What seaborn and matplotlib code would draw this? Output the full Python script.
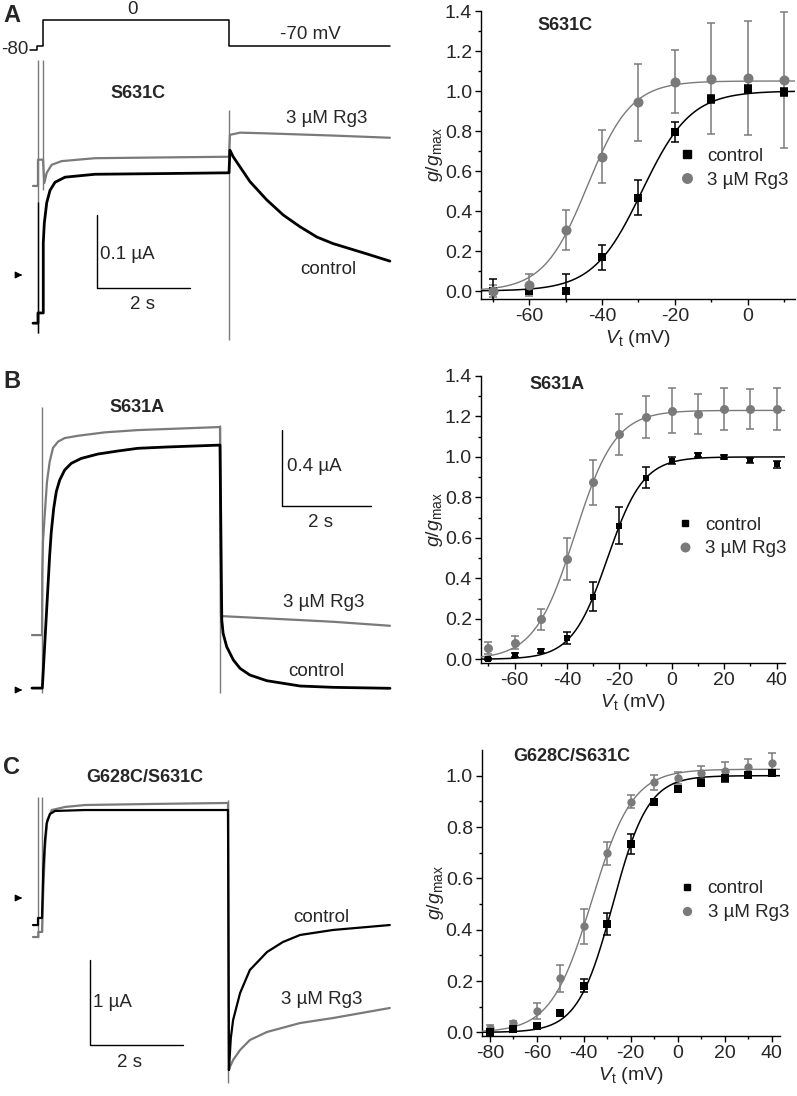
import numpy as np
import seaborn as sns
import matplotlib.pyplot as plt
from matplotlib.lines import Line2D

sns.set_theme(style='ticks')
plt.rcParams['font.family'] = ['Liberation Sans', 'DejaVu Sans']
plt.rcParams['axes.unicode_minus'] = False
plt.rcParams['mathtext.fontset'] = 'custom'
plt.rcParams['mathtext.rm'] = 'Liberation Sans'
plt.rcParams['mathtext.it'] = 'Liberation Sans:italic'

GREY = '#7a7a7a'
RG3 = '3 µM Rg3'

# ---------------- G-V data (right column) ----------------
#A  S631C
vt_a = [-70, -60, -50, -40, -30, -20, -10, 0, 10]
g_ctl_a = [0.00, 0.00, 0.00, 0.168, 0.467, 0.797, 0.958, 1.008, 0.997]
sem_ctl_a = [0.058, 0.01, 0.085, 0.062, 0.088, 0.05, 0.02, 0.02, 0.02]
g_rg3_a = [0.00, 0.03, 0.305, 0.672, 0.943, 1.047, 1.062, 1.065, 1.053]
sem_rg3_a = [0.03, 0.053, 0.10, 0.134, 0.194, 0.158, 0.277, 0.287, 0.34]
fit_ctl_a = (1.0, -29.0, 6.7)     # gmax, V1/2, k
fit_rg3_a = (1.05, -44.0, 6.0)

#B  S631A
vt_b = [-70, -60, -50, -40, -30, -20, -10, 0, 10, 20, 30, 40]
g_ctl_b = [0.0, 0.02, 0.043, 0.107, 0.31, 0.66, 0.898, 0.982, 1.01, 0.998, 0.984, 0.964]
sem_ctl_b = [0.005, 0.01, 0.01, 0.03, 0.073, 0.091, 0.053, 0.017, 0.01, 0.01, 0.012, 0.017]
g_rg3_b = [0.054, 0.082, 0.198, 0.496, 0.875, 1.112, 1.196, 1.229, 1.213, 1.237, 1.236, 1.236]
sem_rg3_b = [0.03, 0.033, 0.052, 0.104, 0.111, 0.10, 0.103, 0.11, 0.10, 0.105, 0.10, 0.105]
fit_ctl_b = (1.0, -24.5, 6.8)
fit_rg3_b = (1.23, -37.0, 7.7)

#C  G628C/S631C
vt_c = [-80, -70, -60, -50, -40, -30, -20, -10, 0, 10, 20, 30, 40]
g_ctl_c = [0.0, 0.012, 0.026, 0.074, 0.182, 0.422, 0.734, 0.899, 0.948, 0.973, 0.99, 1.003, 1.012]
sem_ctl_c = [0.005, 0.005, 0.008, 0.01, 0.025, 0.044, 0.039, 0.012, 0.01, 0.013, 0.013, 0.01, 0.01]
g_rg3_c = [0.018, 0.035, 0.084, 0.21, 0.414, 0.697, 0.899, 0.974, 0.992, 1.009, 1.019, 1.035, 1.048]
sem_rg3_c = [0.01, 0.01, 0.03, 0.052, 0.068, 0.043, 0.025, 0.028, 0.023, 0.03, 0.033, 0.028, 0.04]
fit_ctl_c = (1.0, -27.6, 7.5)
fit_rg3_c = (1.025, -36.6, 8.7)

# ---------------- current traces (left column), time in s, current in uA ----------------
#A
t_ctl_a = [-0.215, -0.108, -0.108, 0.006, 0.006, 0.028, 0.08, 0.151, 0.258, 0.473, 1.118, 2.667, 4.0,
           4.02, 4.09, 4.45, 4.81, 5.17, 5.53, 5.89, 6.24, 6.96, 7.46]
i_ctl_a = [-0.066, -0.066, -0.052, -0.052, 0.044, 0.071, 0.099, 0.116, 0.127, 0.134, 0.138, 0.139, 0.140,
           0.171, 0.162, 0.128, 0.103, 0.082, 0.066, 0.052, 0.043, 0.029, 0.019]
t_rg3_a = [-0.215, -0.108, -0.108, 0.0, 0.028, 0.08, 0.187, 0.402, 1.118, 2.5, 4.0,
           4.02, 4.24, 4.82, 6.24, 7.46]
i_rg3_a = [0.122, 0.122, 0.158, 0.158, 0.126, 0.140, 0.151, 0.156, 0.160, 0.161, 0.162,
           0.192, 0.195, 0.194, 0.191, 0.188]
prot_t = [-0.28, -0.13, -0.13, 0.0, 0.0, 4.0, 4.0, 7.46]
prot_v = [-80, -80, -70, -70, 0, 0, -70, -70]

#B
t_ctl_b = [-0.225, 0.007, 0.09, 0.173, 0.209, 0.263, 0.321, 0.398, 0.51, 0.658, 0.883, 1.258, 1.708,
           2.151, 2.81, 4.0,
           4.04, 4.07, 4.15, 4.30, 4.45, 4.67, 5.05, 5.80, 6.54, 7.82]
i_ctl_b = [0.01, 0.01, 0.36, 0.711, 0.833, 0.956, 1.044, 1.105, 1.158, 1.193, 1.219, 1.242, 1.258,
           1.272, 1.279, 1.289,
           0.368, 0.298, 0.228, 0.158, 0.114, 0.079, 0.049, 0.021, 0.014, 0.009]
t_rg3_b = [-0.225, 0.0, 0.007, 0.022, 0.061, 0.112, 0.173, 0.247, 0.36, 0.51, 0.809, 1.409, 2.157, 4.0,
           4.02, 5.05, 6.55, 7.82]
i_rg3_b = [0.289, 0.289, 0.62, 0.781, 0.921, 1.096, 1.202, 1.274, 1.307, 1.326, 1.338, 1.356, 1.368, 1.384,
           0.389, 0.377, 0.359, 0.338]

#C
t_ctl_c = [-0.194, -0.086, -0.086, 0.0, 0.028, 0.065, 0.101, 0.172, 0.28, 0.925, 4.0,
           4.02, 4.06, 4.11, 4.26, 4.47, 4.84, 5.18, 5.55, 6.26, 7.48]
i_ctl_c = [-0.318, -0.318, -0.235, -0.235, 0.329, 0.682, 0.882, 0.988, 1.024, 1.035, 1.035,
           -2.024, -1.65, -1.435, -1.118, -0.847, -0.635, -0.518, -0.435, -0.376, -0.318]
t_rg3_c = [-0.194, -0.08, -0.08, 0.0, 0.028, 0.065, 0.114, 0.209, 0.495, 0.925, 2.32, 4.0,
           4.02, 4.04, 4.11, 4.26, 4.47, 4.84, 5.55, 6.26, 7.48]
i_rg3_c = [-0.459, -0.459, -0.4, -0.4, 0.094, 0.60, 0.918, 1.035, 1.071, 1.094, 1.106, 1.118,
           -2.024, -1.988, -1.906, -1.788, -1.671, -1.576, -1.471, -1.412, -1.294]

# ---------------- layout (pixels) ----------------
W, H = 797, 1096
fig = plt.figure(figsize=(W / 100, H / 100), dpi=100)


def px_axes(x0, y0, x1, y1):
    return fig.add_axes([x0 / W, 1 - y1 / H, (x1 - x0) / W, (y1 - y0) / H])


def trace_axes(box, x_on, pps, y_zero, ppa):
    ax = px_axes(*box)
    ax.set_xlim((box[0] - x_on) / pps, (box[2] - x_on) / pps)
    ax.set_ylim((y_zero - box[3]) / ppa, (y_zero - box[1]) / ppa)
    ax.axis('off')
    return ax


def draw_traces(ax, t1, i1, t2, i2, lw1=2.0, lw2=1.6):
    sns.lineplot(x=t2, y=i2, ax=ax, color=GREY, lw=lw2, estimator=None, sort=False, zorder=3)
    sns.lineplot(x=t1, y=i1, ax=ax, color='black', lw=lw1, estimator=None, sort=False, zorder=4)


def scale_bar(ax, t0, i0, dt, di, lab_i, lab_i_xy, lab_t_xy):
    ax.plot([t0, t0, t0 + dt], [i0 + di, i0, i0], color='black', lw=1.0)
    ax.text(*lab_i_xy, lab_i, ha='left', va='center', fontsize=13.5)
    ax.text(*lab_t_xy, '%g s' % dt, ha='center', va='center', fontsize=13.5)


def zero_arrow(ax, tail, tip):
    ax.annotate('', xy=(tip, 0), xytext=(tail, 0),
                arrowprops=dict(arrowstyle='-|>', color='black', lw=0.9, mutation_scale=10))


#---- A traces
axp = trace_axes((0, 0, 395, 56), 43, 46.5, 20, 0.3714)
sns.lineplot(x=prot_t, y=prot_v, ax=axp, color='black', lw=1.1, estimator=None, sort=False)
axp.text(-0.32, -80, '-80', ha='right', va='center', fontsize=13.5)
axp.text(1.92, 27, '0', ha='center', va='center', fontsize=13.5)
axp.text(5.74, -40, '-70 mV', ha='center', va='center', fontsize=13.5)

ax = trace_axes((0, 56, 395, 345), 43, 46.5, 275, 730)
ax.vlines([-0.101, 0.006, 4.0], [-0.0795, 0.116, -0.089], [0.2945, 0.2945, 0.226], color=GREY, lw=1.0)
ax.vlines([-0.101], [-0.0795], [0.10], color='black', lw=1.0)
draw_traces(ax, t_ctl_a, i_ctl_a, t_rg3_a, i_rg3_a)
scale_bar(ax, 1.161, -0.0178, 2, 0.1, '0.1 µA', (1.226, 0.0274), (2.15, -0.040))
zero_arrow(ax, -0.56, -0.387)
ax.text(2.04, 0.249, 'S631C', ha='center', va='center', fontsize=13, fontweight='bold')
ax.text(6.1, 0.215, RG3, ha='center', va='center', fontsize=13.5)
ax.text(6.14, 0.007, 'control', ha='center', va='center', fontsize=13.5)

#---- B traces
ax = trace_axes((0, 395, 395, 700), 42, 44.5, 690, 190)
ax.vlines([-0.007, 4.0], [-0.016, -0.016], [1.489, 1.395], color=GREY, lw=1.0)
draw_traces(ax, t_ctl_b, i_ctl_b, t_rg3_b, i_rg3_b)
scale_bar(ax, 5.39, 0.968, 2, 0.4, '0.4 µA', (5.50, 1.174), (6.25, 0.879))
zero_arrow(ax, -0.562, -0.382)
ax.text(2.13, 1.489, 'S631A', ha='center', va='center', fontsize=13, fontweight='bold')
ax.text(6.33, 0.458, RG3, ha='center', va='center', fontsize=13.5)
ax.text(6.17, 0.095, 'control', ha='center', va='center', fontsize=13.5)

#---- C traces
ax = trace_axes((0, 780, 395, 1092), 42, 46.5, 898, 85)
ax.vlines([-0.08, -0.006, 4.0], [-0.459, -0.4, -2.176], [1.188, 1.188, 1.153], color=GREY, lw=1.0)
draw_traces(ax, t_ctl_c, i_ctl_c, t_rg3_c, i_rg3_c, lw1=1.6, lw2=1.6)
scale_bar(ax, 1.032, -1.729, 2, 1.0, '1 µA', (1.10, -1.235), (1.89, -1.94))
zero_arrow(ax, -0.538, -0.366)
ax.text(2.215, 1.42, 'G628C/S631C', ha='center', va='center', fontsize=13, fontweight='bold')
ax.text(6.0, -0.224, 'control', ha='center', va='center', fontsize=13.5)
ax.text(6.01, -1.20, RG3, ha='center', va='center', fontsize=13.5)

# panel letters
for lab, yy in [('A', 15), ('B', 382), ('C', 767)]:
    fig.text(3 / W, 1 - yy / H, lab, ha='left', va='center', fontsize=17, fontweight='bold')


# ---------------- G-V panels ----------------
def gv_panel(box, xlim, ylim, vt, g1, e1, g2, e2, f1, f2, title, title_xy, leg_xy,
             xmaj, ymaj, s_sq, s_ci, rg3_on_top):
    ax = px_axes(*box)
    ax.errorbar(vt, g2, yerr=e2, fmt='none', ecolor=GREY, elinewidth=1.1, capsize=3, capthick=1.1, zorder=2)
    ax.errorbar(vt, g1, yerr=e1, fmt='none', ecolor='black', elinewidth=1.1, capsize=3, capthick=1.1, zorder=2)
    v = np.linspace(xlim[0], xlim[1], 300)
    for (gm, vh, k), col, lw in [(f1, 'black', 1.1), (f2, GREY, 1.0)]:
        sns.lineplot(x=v, y=gm / (1 + np.exp((vh - v) / k)), ax=ax, color=col, lw=lw,
                     estimator=None, sort=False, zorder=3)
    z1, z2 = (4, 5) if rg3_on_top else (5, 4)
    sns.scatterplot(x=vt, y=g1, ax=ax, marker='s', s=s_sq, color='black', linewidth=0, zorder=z1)
    sns.scatterplot(x=vt, y=g2, ax=ax, marker='o', s=s_ci, color=GREY, linewidth=0, zorder=z2)
    ax.set_xticks(xmaj)
    ax.set_xticks(np.arange(xmaj[0] - 10, xmaj[-1] + 11, 10), minor=True)
    ax.set_yticks(ymaj)
    ax.set_yticks(np.arange(0, ymaj[-1] + 0.01, 0.1), minor=True)
    ax.set_yticklabels(['%.1f' % y for y in ymaj])
    ax.set_xlim(xlim)
    ax.set_ylim(ylim)
    ax.tick_params(which='major', direction='out', length=4.3, width=1.0, labelsize=14, pad=2, color='black')
    ax.tick_params(which='minor', direction='out', length=2.5, width=1.0, color='black')
    for side in ('top', 'right'):
        ax.spines[side].set_visible(False)
    for side in ('left', 'bottom'):
        ax.spines[side].set_linewidth(1.0)
        ax.spines[side].set_color('black')
    ax.set_xlabel(r'$V_{\mathrm{t}}$ (mV)', fontsize=14, labelpad=2)
    ax.set_ylabel(r'$g/g_{\mathrm{max}}$', fontsize=14, labelpad=0)
    ax.text(*title_xy, title, transform=ax.transAxes, ha='center', va='center',
            fontsize=13, fontweight='bold')
    handles = [Line2D([], [], ls='none', marker='s', color='black', markersize=np.sqrt(s_sq) * 0.95),
               Line2D([], [], ls='none', marker='o', color=GREY, markersize=np.sqrt(s_ci) * 0.95)]
    ax.legend(handles, ['control', RG3], loc='center left', bbox_to_anchor=leg_xy, frameon=False,
              fontsize=13.5, handlelength=1.0, handletextpad=0.6, labelspacing=0.35,
              borderpad=0, borderaxespad=0)
    return ax


gv_panel((481, 11, 795, 299), (-73.2, 13.0), (-0.04, 1.4), vt_a, g_ctl_a, sem_ctl_a, g_rg3_a, sem_rg3_a,
         fit_ctl_a, fit_rg3_a, 'S631C', (0.267, 0.951), (0.625, 0.454),
         [-60, -40, -20, 0], np.arange(0, 1.41, 0.2), 34, 52, True)
gv_panel((480.7, 376, 785, 663.3), (-72.9, 43.2), (-0.02, 1.4), vt_b, g_ctl_b, sem_ctl_b, g_rg3_b, sem_rg3_b,
         fit_ctl_b, fit_rg3_b, 'S631A', (0.25, 0.969), (0.64, 0.44),
         [-60, -40, -20, 0, 20, 40], np.arange(0, 1.41, 0.2), 23, 42, False)
gv_panel((481.7, 750, 780, 1036), (-83.5, 43.6), (-0.014, 1.1), vt_c, g_ctl_c, sem_ctl_c, g_rg3_c, sem_rg3_c,
         fit_ctl_c, fit_rg3_c, 'G628C/S631C', (0.302, 0.977), (0.657, 0.473),
         [-80, -60, -40, -20, 0, 20, 40], np.arange(0, 1.01, 0.2), 28, 36, False)

fig.savefig('out.png', dpi=100)
